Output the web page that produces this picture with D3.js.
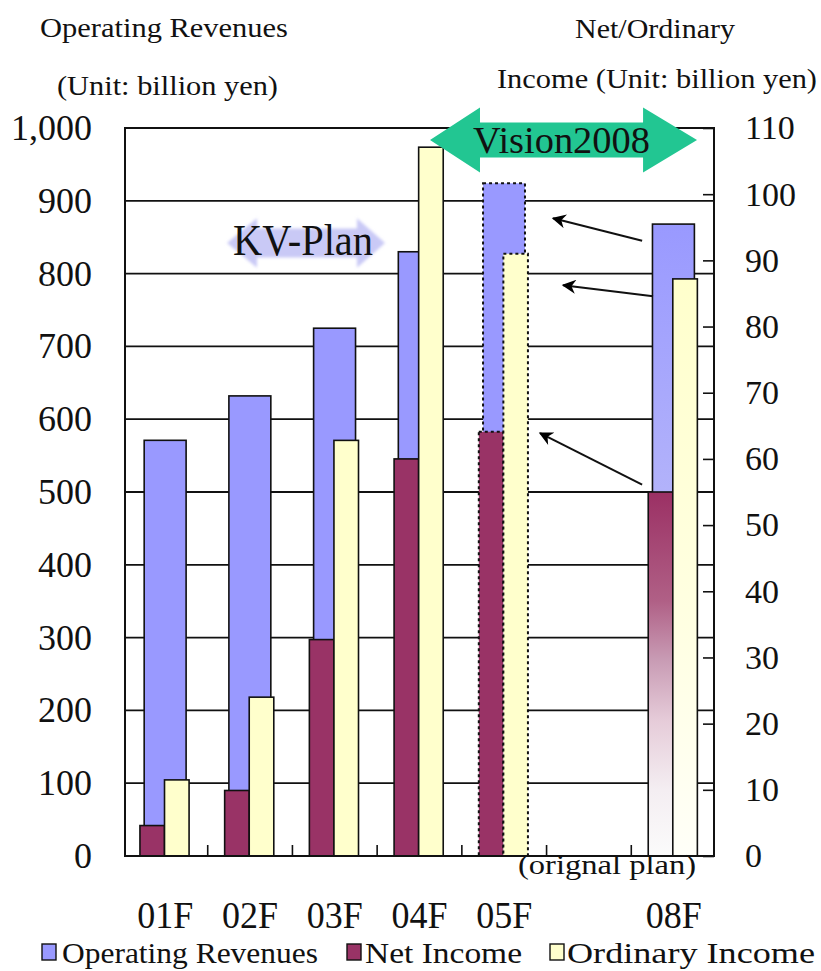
<!DOCTYPE html>
<html>
<head>
<meta charset="utf-8">
<script src="https://cdn.jsdelivr.net/npm/d3@7"></script>
<style>
  body { margin: 0; background: #fff; }
  svg { display: block; }
  text { font-family: "Liberation Serif", "DejaVu Serif", serif; fill: #111; }
</style>
</head>
<body>
<svg id="chart" width="821" height="971"></svg>
<script>
// ---- data -------------------------------------------------------------
const categories = ["01F", "02F", "03F", "04F", "05F", "", "08F"];
const operatingRevenues = [571, 632, 725, 830, 924, null, 868];   // billion yen, left axis
const netIncome = [4.6, 9.9, 32.7, 60.0, 64.1, null, 55.0];       // billion yen, right axis
const ordinaryIncome = [11.5, 24.0, 62.8, 107.1, 91.0, null, 87.2]; // billion yen, right axis
const leftTicks = [0, 100, 200, 300, 400, 500, 600, 700, 800, 900, 1000];
const leftTickLabels = ["0", "100", "200", "300", "400", "500", "600", "700", "800", "900", "1,000"];
const rightTicks = [0, 10, 20, 30, 40, 50, 60, 70, 80, 90, 100, 110];
const seriesNames = ["Operating Revenues", "Net Income", "Ordinary Income"];
const planCategory = "05F";    // the year whose bars are the original plan
const targetCategory = "08F";  // the Vision2008 target year

// ---- layout -----------------------------------------------------------
const frame = { left: 125, right: 714, top: 128, bottom: 856 };
const colors = { rev: "#9999ff", net: "#993366", ord: "#ffffcc", vision: "#22c692", kv: "#c9c9f6" };

const svg = d3.select("#chart");
const defs = svg.append("defs");

const x = d3.scaleBand().domain(categories).range([123, 716]).padding(0);
const slot = d3.scaleLinear().domain([0, categories.length]).range(x.range()); // slot units for annotations
const yL = d3.scaleLinear().domain([0, 1000]).range([frame.bottom, frame.top]);
const yR = d3.scaleLinear().domain([0, 110]).range([frame.bottom, frame.top]);
const bw = x.bandwidth();

// fractions of a slot occupied by each bar
const revSpan = [0.25, 0.745];
const netSpan = [0.2, 0.49];
const ordSpan = [0.49, 0.78];

// gradients for the target-year bars
function vGrad(id, stops) {
  const g = defs.append("linearGradient").attr("id", id)
    .attr("x1", 0).attr("y1", 0).attr("x2", 0).attr("y2", 1);
  stops.forEach(([o, c]) => g.append("stop").attr("offset", o).attr("stop-color", c));
}
vGrad("gRev", [[0, "#9999ff"], [0.45, "#b4b4fa"], [1, "#e2e2fb"]]);
vGrad("gNet", [[0, "#9b3064"], [0.3, "#b06086"], [0.46, "#c89bb4"], [0.63, "#e6ccd9"], [0.82, "#f4eef2"], [1, "#fbfbfb"]]);
vGrad("gOrd", [[0, "#ffffcc"], [0.6, "#ffffe2"], [1, "#fffff8"]]);

// blur for the soft KV-Plan arrow
defs.append("filter").attr("id", "soft").append("feGaussianBlur").attr("stdDeviation", 1.6);

// arrowhead marker (tip points along the line direction)
defs.append("marker").attr("id", "head")
  .attr("viewBox", "0 0 10 10").attr("refX", 9).attr("refY", 5)
  .attr("markerUnits", "userSpaceOnUse").attr("markerWidth", 17).attr("markerHeight", 14)
  .attr("orient", "auto")
  .append("path").attr("d", "M0,0 L10,5 L0,10 L3,5 Z").attr("fill", "#000");

// ---- grid -------------------------------------------------------------
svg.append("g").selectAll("line")
  .data(leftTicks.filter(t => t > 0 && t < 1000))
  .join("line")
  .attr("x1", frame.left).attr("x2", frame.right)
  .attr("y1", d => yL(d)).attr("y2", d => yL(d))
  .attr("stroke", "#111").attr("stroke-width", 1.8);

// ---- bars -------------------------------------------------------------
const rows = categories.map((c, i) => ({
  c, rev: operatingRevenues[i], net: netIncome[i], ord: ordinaryIncome[i]
})).filter(d => d.rev != null);

function styleBar(sel, key, gradId) {
  sel.attr("fill", d => d.c === targetCategory ? `url(#${gradId})` : colors[key])
    .attr("stroke", "#111")
    .attr("stroke-width", d => d.c === planCategory ? 2 : 1.6)
    .attr("stroke-dasharray", d => d.c === planCategory ? "3,3" : null);
}

svg.append("g").selectAll("rect").data(rows).join("rect")
  .attr("x", d => x(d.c) + bw * revSpan[0])
  .attr("width", bw * (revSpan[1] - revSpan[0]))
  .attr("y", d => yL(d.rev))
  .attr("height", d => yL(0) - yL(d.rev))
  .call(styleBar, "rev", "gRev");

svg.append("g").selectAll("rect").data(rows).join("rect")
  .attr("x", d => x(d.c) + bw * netSpan[0])
  .attr("width", bw * (netSpan[1] - netSpan[0]))
  .attr("y", d => yR(d.net))
  .attr("height", d => yR(0) - yR(d.net))
  .call(styleBar, "net", "gNet");

svg.append("g").selectAll("rect").data(rows).join("rect")
  .attr("x", d => x(d.c) + bw * ordSpan[0])
  .attr("width", bw * (ordSpan[1] - ordSpan[0]))
  .attr("y", d => yR(d.ord))
  .attr("height", d => yR(0) - yR(d.ord))
  .call(styleBar, "ord", "gOrd");

// ---- frame and axes ---------------------------------------------------
svg.append("rect")
  .attr("x", frame.left).attr("y", frame.top)
  .attr("width", frame.right - frame.left).attr("height", frame.bottom - frame.top)
  .attr("fill", "none").attr("stroke", "#111").attr("stroke-width", 2);

// category separators on the base line
svg.append("g").selectAll("line")
  .data(d3.range(1, categories.length))
  .join("line")
  .attr("x1", i => slot(i)).attr("x2", i => slot(i))
  .attr("y1", frame.bottom).attr("y2", frame.bottom - 11)
  .attr("stroke", "#111").attr("stroke-width", 1.6);

const leftAxis = svg.append("g")
  .attr("transform", `translate(${frame.left},0)`)
  .call(d3.axisLeft(yL).tickValues(leftTicks)
    .tickFormat((d, i) => leftTickLabels[i]).tickSize(0).tickPadding(33));
leftAxis.select(".domain").remove();
leftAxis.selectAll("text").attr("font-size", 36).attr("font-family", null).attr("fill", "#111");

const rightAxis = svg.append("g")
  .attr("transform", `translate(${frame.right},0)`)
  .call(d3.axisRight(yR).tickValues(rightTicks).tickSize(-11).tickPadding(31));
rightAxis.select(".domain").remove();
rightAxis.selectAll("line").attr("stroke", "#111").attr("stroke-width", 1.6);
rightAxis.selectAll("text").attr("font-size", 34).attr("font-family", null).attr("fill", "#111");

const bottomAxis = svg.append("g")
  .attr("transform", `translate(0,${frame.bottom})`)
  .call(d3.axisBottom(x).tickSize(0).tickPadding(46));
bottomAxis.select(".domain").remove();
bottomAxis.selectAll("text").attr("font-size", 37).attr("font-family", null).attr("fill", "#111")
  .attr("textLength", d => d ? 56 : null).attr("lengthAdjust", "spacingAndGlyphs");

// ---- axis titles ------------------------------------------------------
function label(txt, x0, y0, size, len) {
  svg.append("text").attr("x", x0).attr("y", y0).attr("font-size", size)
    .attr("textLength", len).attr("lengthAdjust", "spacingAndGlyphs").text(txt);
}
label("Operating Revenues", 40, 37, 28, 248);
label("(Unit: billion yen)", 57, 95, 28, 221);
label("Net/Ordinary", 575, 38, 28, 160);
label("Income (Unit: billion yen)", 497, 88, 28, 320);
label("(orignal plan)", 518, 874, 27, 178);

// ---- plan annotations -------------------------------------------------
function doubleArrow(xl, xlb, xrb, xr, yc, body, head) {
  return `M${xl},${yc} L${xlb},${yc - head} L${xlb},${yc - body} L${xrb},${yc - body}` +
    ` L${xrb},${yc - head} L${xr},${yc} L${xrb},${yc + head} L${xrb},${yc + body}` +
    ` L${xlb},${yc + body} L${xlb},${yc + head} Z`;
}
const pxH = v => yL(0) - yL(v); // value span -> pixels

// KV-Plan (mid-term plan) span
const kv = { tips: [1.228, 1.582, 2.762, 3.093], center: 842, body: 20, head: 34, textAt: [2.125, 826] };
svg.append("path")
  .attr("d", doubleArrow(...kv.tips.map(slot), yL(kv.center), pxH(kv.body), pxH(kv.head)))
  .attr("fill", colors.kv).attr("filter", "url(#soft)");
svg.append("text").attr("x", slot(kv.textAt[0])).attr("y", yL(kv.textAt[1]))
  .attr("text-anchor", "middle").attr("font-size", 44)
  .attr("textLength", 140).attr("lengthAdjust", "spacingAndGlyphs").text("KV-Plan");

// Vision2008 span
const vision = { tips: [3.624, 4.214, 6.139, 6.776], center: 983.5, body: 24, head: 44.6, textAt: [5.176, 966] };
svg.append("path")
  .attr("d", doubleArrow(...vision.tips.map(slot), yL(vision.center), pxH(vision.body), pxH(vision.head)))
  .attr("fill", colors.vision);
svg.append("text").attr("x", slot(vision.textAt[0])).attr("y", yL(vision.textAt[1]))
  .attr("text-anchor", "middle").attr("font-size", 38)
  .attr("textLength", 177).attr("lengthAdjust", "spacingAndGlyphs").text("Vision2008");

// arrows from the target year back to the original plan
const planArrows = [
  { from: [6.128, 845], to: [5.077, 876] },
  { from: [6.257, 769], to: [5.195, 784] },
  { from: [6.128, 510], to: [4.923, 581] }
];
svg.append("g").selectAll("line").data(planArrows).join("line")
  .attr("x1", d => slot(d.from[0])).attr("y1", d => yL(d.from[1]))
  .attr("x2", d => slot(d.to[0])).attr("y2", d => yL(d.to[1]))
  .attr("stroke", "#111").attr("stroke-width", 2)
  .attr("marker-end", "url(#head)");

// ---- legend -----------------------------------------------------------
const legendItems = [
  { name: seriesNames[0], fill: colors.rev, sx: 42, tx: 62, len: 256 },
  { name: seriesNames[1], fill: colors.net, sx: 347, tx: 365, len: 157 },
  { name: seriesNames[2], fill: colors.ord, sx: 550, tx: 567, len: 248 }
];
const lg = svg.append("g").selectAll("g").data(legendItems).join("g");
lg.append("rect").attr("x", d => d.sx).attr("y", 944).attr("width", 14).attr("height", 16)
  .attr("fill", d => d.fill).attr("stroke", "#111").attr("stroke-width", 1.4);
lg.append("text").attr("x", d => d.tx).attr("y", 963).attr("font-size", 30)
  .attr("textLength", d => d.len).attr("lengthAdjust", "spacingAndGlyphs").text(d => d.name);
</script>
</body>
</html>
